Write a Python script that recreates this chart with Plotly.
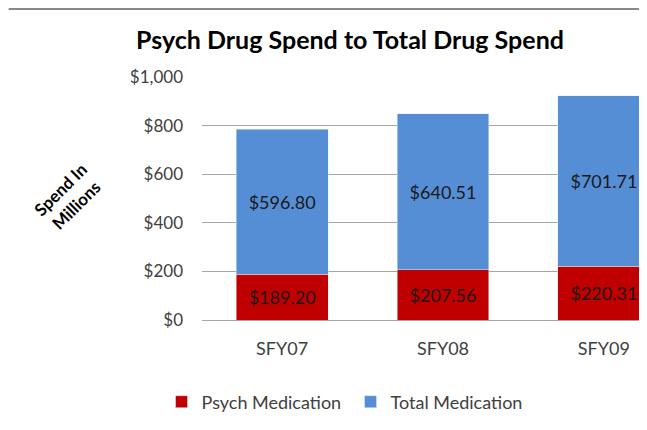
import plotly.graph_objects as go

categories = ["SFY07", "SFY08", "SFY09"]
psych_values = [189.20, 207.56, 220.31]
total_values = [596.80, 640.51, 701.71]
y_ticks = [0, 200, 400, 600, 800, 1000]
y_tick_labels = ["$0", "$200", "$400", "$600", "$800", "$1,000"]

FONT = "Lato"
# page has an 8px body margin, so the figure is drawn 8px smaller
W, H = 639, 422
L, R, T, B = 193.5, 0, 69, 110
PW, PH = W - L - R, H - T - B

fig = go.Figure()
fig.add_trace(go.Bar(
    name="Psych Medication", x=categories, y=psych_values,
    marker=dict(color="#C00000"),
    texttemplate="$%{y:.2f}", textposition="inside", insidetextanchor="middle",
    textfont=dict(family=FONT, size=18, color="#1a1a1a"),
    width=0.571,
))
fig.add_trace(go.Bar(
    name="Total Medication", x=categories, y=total_values,
    marker=dict(color="#558ED5"),
    texttemplate="$%{y:.2f}", textposition="inside", insidetextanchor="middle",
    textfont=dict(family=FONT, size=18, color="#1a1a1a"),
    width=0.571,
))

fig.update_layout(
    width=W, height=H,
    margin=dict(l=L, r=R, t=T, b=B, autoexpand=False),
    barmode="stack",
    plot_bgcolor="white", paper_bgcolor="white",
    font=dict(family=FONT, color="#404040"),
    title=dict(text="<b>Psych Drug Spend to Total Drug Spend</b>",
               x=342 / W, xref="container", xanchor="center",
               y=1 - 32 / H, yref="container", yanchor="middle",
               font=dict(family=FONT, size=25, color="#000000")),
    showlegend=True,
    legend=dict(orientation="h", x=(161 - 201.5) / PW, xanchor="left",
                y=(320 - 402) / PH, yanchor="middle",
                font=dict(family=FONT, size=18, color="#404040"),
                traceorder="normal", entrywidth=144, entrywidthmode="pixels"),
    xaxis=dict(range=[-0.498, 2.268], showgrid=False, showline=False,
               ticks="", tickfont=dict(family=FONT, size=18, color="#404040"),
               ticklabelstandoff=16, fixedrange=True),
    yaxis=dict(range=[0, 1000], tickvals=y_ticks, ticktext=y_tick_labels,
               showgrid=True, gridcolor="#a6a6a6", gridwidth=1,
               zeroline=True, zerolinecolor="#a6a6a6", zerolinewidth=1,
               showline=False, ticks="",
               tickfont=dict(family=FONT, size=17, color="#404040"),
               ticklabelstandoff=18, fixedrange=True),
    annotations=[dict(text="<b>Spend In<br>Millions</b>", xref="paper", yref="paper",
                      x=(67 - 201.5) / PW, y=(320 - 197) / PH, showarrow=False,
                      textangle=-45, font=dict(family=FONT, size=17, color="#000000"),
                      xanchor="center", yanchor="middle")],
    shapes=[dict(type="line", xref="paper", yref="paper",
                 x0=(0 - L) / PW, x1=1.0, y0=1 + (T - 1) / PH, y1=1 + (T - 1) / PH,
                 line=dict(color="#888888", width=2))],
)

fig.write_html("out.html")
